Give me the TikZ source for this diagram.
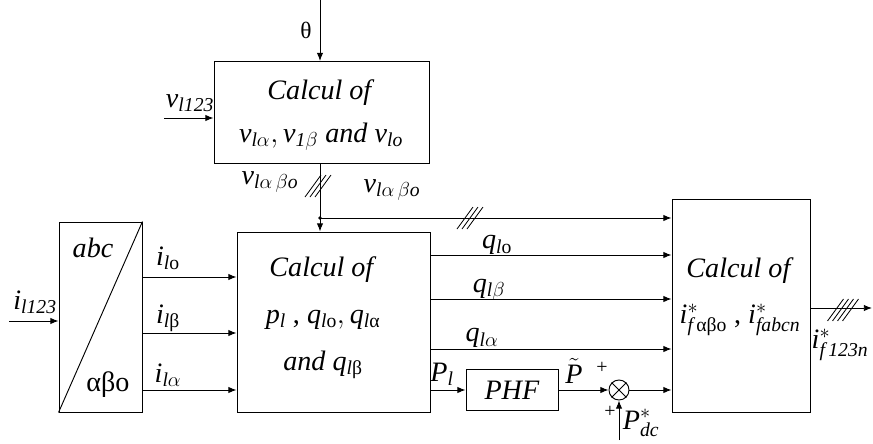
\documentclass[tikz,border=0pt]{standalone}
\usepackage{fontspec}
\setmainfont{Liberation Serif}
\usepackage{amsmath}
\usetikzlibrary{positioning, arrows.meta}

% trait de bus (n conducteurs)
\newcommand{\busmark}[2]{%
  \foreach \d in {#2}
    \draw[line width=0.7pt] ([shift={(\d-8,11)}]#1) -- ([shift={(\d+8,-11)}]#1);}

\begin{document}
\begin{tikzpicture}[x=0.03cm, y=-0.03cm, line width=0.8pt,
    font=\fontsize{24}{29}\selectfont,
    bloc/.style={draw, inner sep=0pt},
    sig/.style={-{Latex[length=7pt, width=5.5pt]}},
    signe/.style={font=\fontsize{17}{20}\selectfont, inner sep=0pt}]
  \useasboundingbox (0,0) rectangle (873,443);

  % blocs
  \node[bloc, minimum width=6.45cm, minimum height=3.06cm] (calv) at (321.5,112.5) {};
  \node[bloc, minimum width=2.49cm, minimum height=5.7cm] (abc) at (100.5,317) {};
  \node[bloc, minimum width=5.79cm, minimum height=5.4cm] (calpq) at (333.5,322) {};
  \node[bloc, minimum width=4.14cm, minimum height=6.39cm] (calif) at (741,305.5) {};
  \node[bloc, minimum width=2.76cm, minimum height=1.23cm] (phf) at (512,390) {\textit{PHF}};
  \node[bloc, circle, minimum size=0.6cm] (sum) at (619,390) {};
  \draw (sum.north west) -- (sum.south east) (sum.north east) -- (sum.south west);
  \draw (abc.south west) -- (abc.north east);

  % textes des blocs
  \node[align=center] (calv-t) at (321,115)
       {\textit{Calcul of}\\[8pt]
        $\mathit{v}_{\mathit{l}\alpha},\mathit{v}_{\mathit{1}\beta}$ \textit{and} $\mathit{v}_{\mathit{lo}}$};
  \node (abc-h) at (93,248) {\textit{abc}};
  \node (abc-b) at (108,385) {αβo};
  \node[align=center] (calpq-t) at (323,318)
       {\textit{Calcul of}\\[11pt]
        $\mathit{p}_{\mathit{l}}$ , $\mathit{q}_{\mathit{l}\text{o}},\mathit{q}_{\mathit{l}\text{α}}$\\[11pt]
        \textit{and} $\mathit{q}_{\mathit{l}\text{β}}$};
  \node[align=center] (calif-t) at (740,297)
       {\textit{Calcul of}\\[10pt]
        $\mathit{i}^{*}_{\mathit{f}\,\text{αβo}}$ , $\mathit{i}^{*}_{\mathit{fabcn}}$};

  % extremites libres
  \coordinate (theta) at (320,0);
  \coordinate (vin) at (164,118);
  \coordinate (iin) at (9,321);
  \coordinate (jv) at (320,218);
  \coordinate (pdc) at (619,440);
  \coordinate (iout) at (872,308);

  % liaisons
  \draw[sig] (theta) -- (calv.north -| theta);
  \draw[sig] (vin) -- (calv.west |- vin);
  \draw (calv.south -| jv) -- (jv);
  \draw[sig] (jv) -- (calpq.north -| jv);
  \draw[sig] (jv) -- (calif.west |- jv);
  \fill (jv) circle (1.6pt);
  \draw[sig] (iin) -- (abc.west |- iin);
  \foreach \yy in {277,333,390}
    \draw[sig] (abc.east |- 0,\yy) -- (calpq.west |- 0,\yy);
  \foreach \yy in {255,299,349}
    \draw[sig] (calpq.east |- 0,\yy) -- (calif.west |- 0,\yy);
  \draw[sig] (calpq.east |- phf.west) -- (phf.west);
  \draw[sig] (phf.east) -- (sum.west);
  \draw[sig] (sum.east) -- (calif.west |- sum.east);
  \draw[sig] (pdc) -- (sum.south);
  \draw[sig] (calif.east |- iout) -- (iout);

  % bus
  \coordinate (bv) at (318,186); \busmark{bv}{-5,0,5}
  \coordinate (bh) at (470,218); \busmark{bh}{-5,0,5}
  \coordinate (bo) at (843,310); \busmark{bo}{-7.5,-2.5,2.5,7.5}

  % etiquettes
  \node[font=\fontsize{20}{24}\selectfont] (theta-l) at (306,30) {θ};
  \node (vin-l) at (190,103) {$\mathit{v}_{\mathit{l123}}$};
  \node (iin-l) at (35,302) {$\mathit{i}_{\mathit{l123}}$};
  \node (vab-g) at (270,182) {$\mathit{v}_{\mathit{l}\alpha\,\beta\mathit{o}}$};
  \node (vab-d) at (392,190) {$\mathit{v}_{\mathit{l}\alpha\,\beta\mathit{o}}$};
  \node (io-l) at (168,258) {$\mathit{i}_{\mathit{l}\text{o}}$};
  \node (ib-l) at (168,318) {$\mathit{i}_{\mathit{l}\text{β}}$};
  \node (ia-l) at (168,375) {$\mathit{i}_{\mathit{l}\alpha}$};
  \node (qo-l) at (497,245) {$\mathit{q}_{\mathit{l}\text{o}}$};
  \node (qb-l) at (489,290) {$\mathit{q}_{\mathit{l}\beta}$};
  \node (qa-l) at (482,338) {$\mathit{q}_{\mathit{l}\alpha}$};
  \node (pl-l) at (442,374) {$\mathit{P}_{\mathit{l}}$};
  \node[inner sep=0pt] (pt-l) at (574,371) {$\tilde{\mathit{P}}$};
  \node[signe] (s1) at (602,368) {+};
  \node[signe] (s2) at (610,412) {+};
  \node (pdc-l) at (641,423) {$\mathit{P}^{*}_{\mathit{dc}}$};
  \node (iout-l) at (840,345) {$\mathit{i}^{*}_{\mathit{f\,123n}}$};
\end{tikzpicture}
\end{document}
